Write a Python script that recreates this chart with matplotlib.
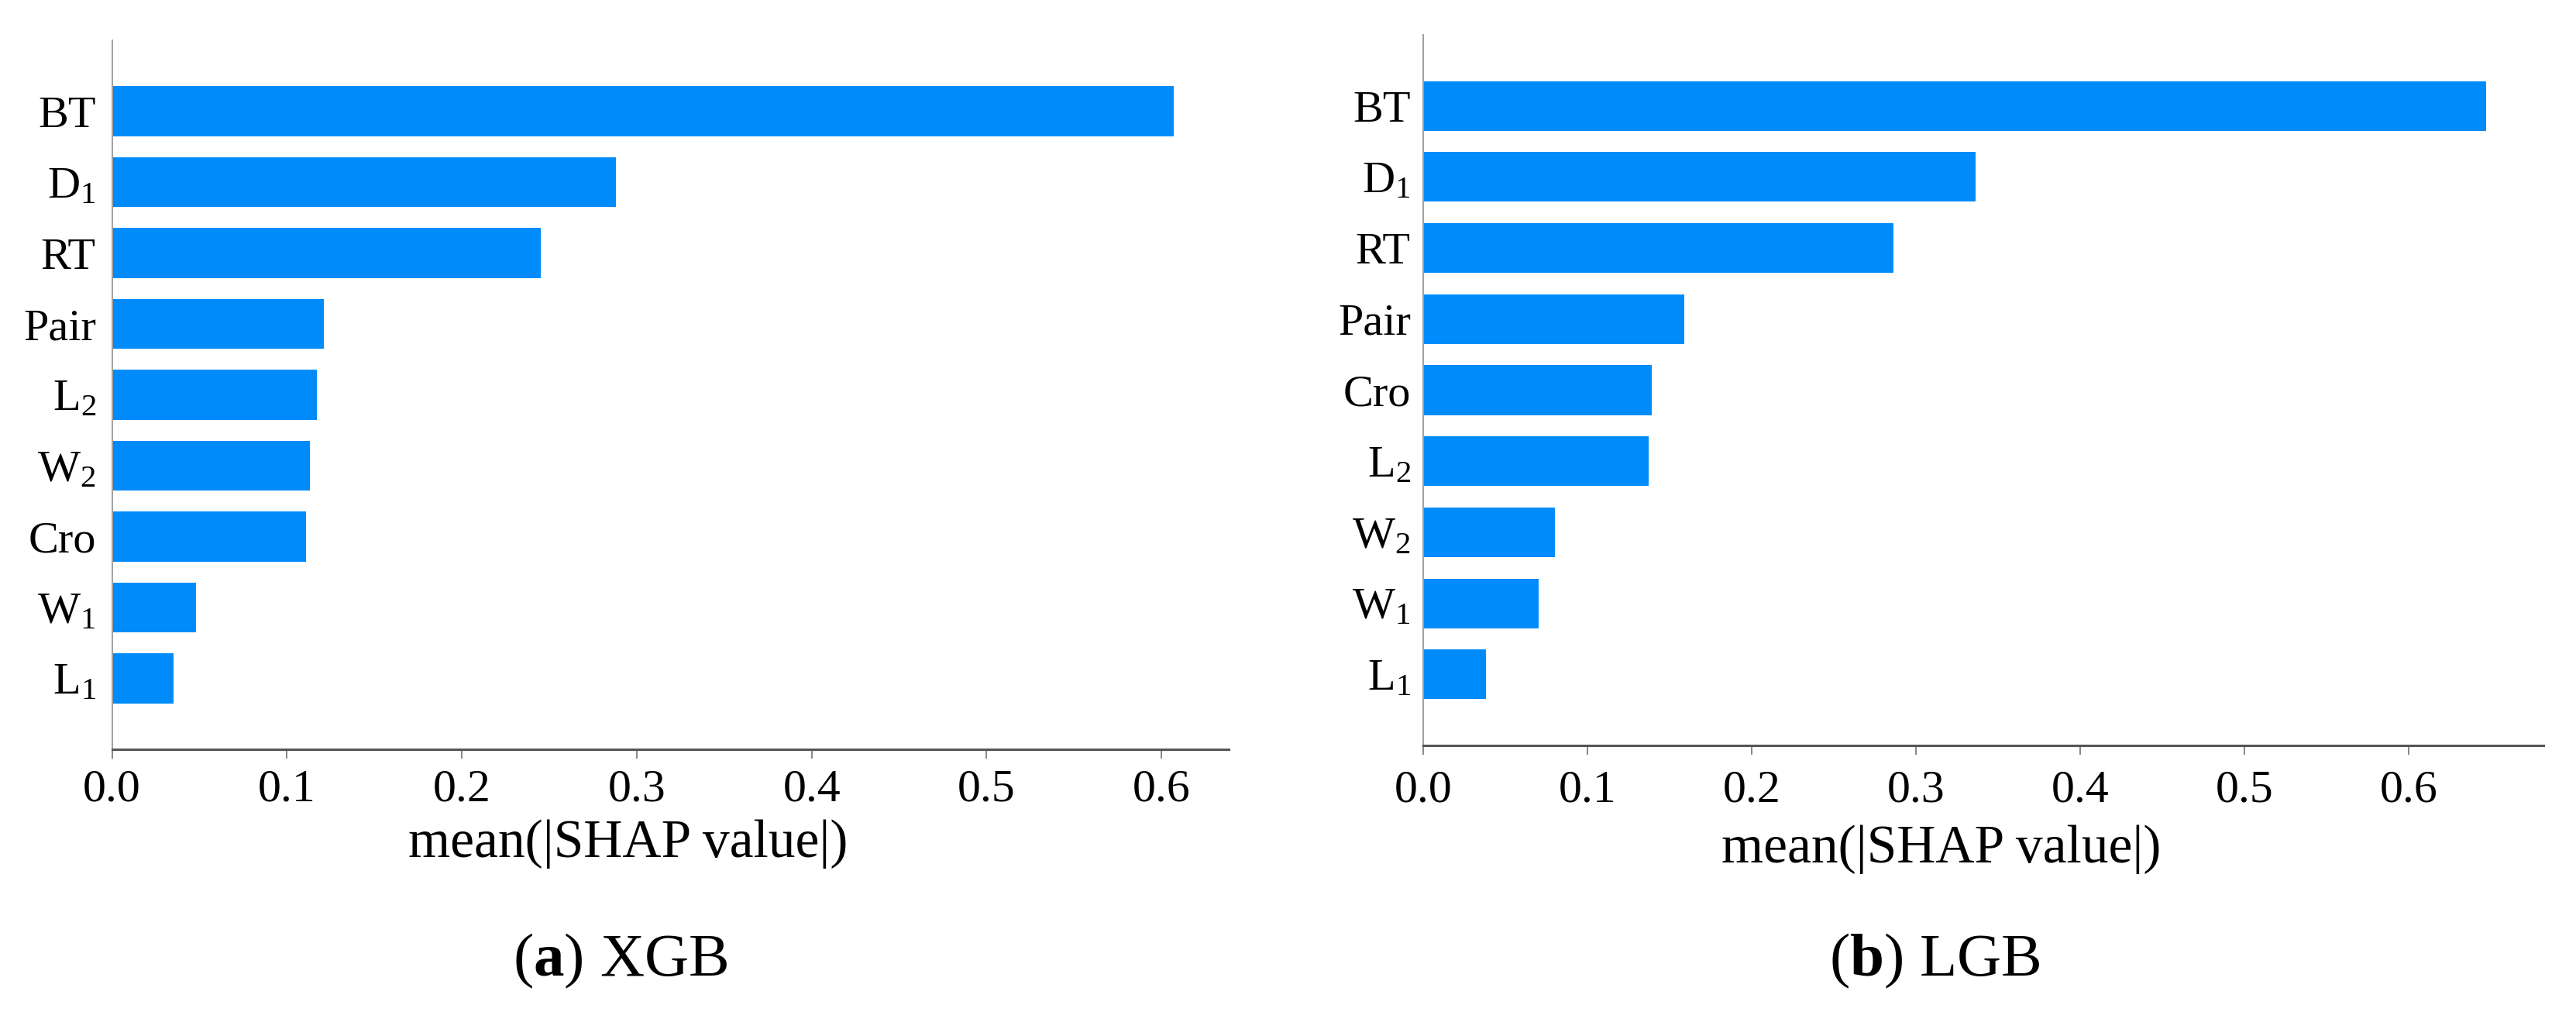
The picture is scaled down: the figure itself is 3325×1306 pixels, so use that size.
import numpy as np
import matplotlib
matplotlib.use("Agg")
import matplotlib.pyplot as plt

plt.rcParams['font.family'] = ['Liberation Serif', 'DejaVu Serif']
plt.rcParams['mathtext.fontset'] = 'custom'
plt.rcParams['mathtext.rm'] = 'Liberation Serif'
plt.rcParams['mathtext.it'] = 'Liberation Serif:italic'
plt.rcParams['mathtext.bf'] = 'Liberation Serif:bold'

# mean(|SHAP|) per feature (top to bottom)
xgb_features = ['BT', 'D$_1$', 'RT', 'Pair', 'L$_2$', 'W$_2$', 'Cro', 'W$_1$', 'L$_1$']
xgb_values = [0.607, 0.288, 0.245, 0.121, 0.117, 0.113, 0.111, 0.048, 0.035]

lgb_features = ['BT', 'D$_1$', 'RT', 'Pair', 'Cro', 'L$_2$', 'W$_2$', 'W$_1$', 'L$_1$']
lgb_values = [0.647, 0.336, 0.286, 0.159, 0.139, 0.137, 0.080, 0.070, 0.038]

xticks = [0.0, 0.1, 0.2, 0.3, 0.4, 0.5, 0.6]
captions = [r"($\mathbf{a}$) XGB", r"($\mathbf{b}$) LGB"]

bar_color = '#008bfb'

fig = plt.figure(figsize=(33.25, 13.06), dpi=100)

# axes rectangles in figure fraction
ax1 = fig.add_axes([0.04349, 0.25957, 0.43351, 0.70061])
ax2 = fig.add_axes([0.55263, 0.26340, 0.43474, 0.70214])


def shap_bar(ax, feats, vals, xmax, ypad, tpad, label_y):
    n = len(feats)
    ypos = np.arange(n)[::-1]
    ax.barh(ypos, vals, height=0.7, color=bar_color, align='center')
    ax.set_yticks(ypos)
    ax.set_yticklabels(feats, fontsize=42)
    ax.set_ylim(-1, n)
    ax.set_xlim(0, xmax)
    ax.set_xticks(xticks)
    ax.set_xticklabels([f"{t:.1f}" for t in xticks], fontsize=43)
    for s in ['top', 'right']:
        ax.spines[s].set_visible(False)
    ax.spines['left'].set_color('#a0a0a0')
    ax.spines['left'].set_linewidth(1.4)
    ax.spines['bottom'].set_color('#555555')
    ax.spines['bottom'].set_linewidth(2.2)
    ax.tick_params(axis='y', length=0, pad=ypad)
    ax.tick_params(axis='x', length=8.5, width=1.1, color='#666666', pad=tpad)
    ax.set_xlabel('mean(|SHAP value|)', fontsize=50)
    ax.xaxis.label.set_verticalalignment('baseline')
    ax.xaxis.set_label_coords(0.462, label_y)


shap_bar(ax1, xgb_features, xgb_values, 0.6385, 15, 10, -0.152)
shap_bar(ax2, lgb_features, lgb_values, 0.682, 12, 14, -0.165)

fig.text(0.2408, 0.036, captions[0], fontsize=57, ha='center', va='baseline')
fig.text(0.7511, 0.036, captions[1], fontsize=57, ha='center', va='baseline')

fig.savefig('out.png', dpi=100, facecolor='white')
